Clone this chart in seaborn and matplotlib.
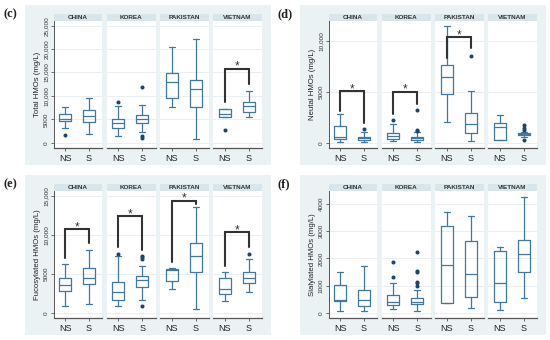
import matplotlib
matplotlib.use("Agg")
import matplotlib.pyplot as plt
import seaborn as sns
from matplotlib.patches import Rectangle

# ---------------- data ----------------
COUNTRIES = ["CHINA", "KOREA", "PAKISTAN", "VIETNAM"]
GROUPS = ["NS", "S"]
PANEL_LABELS = ["(c)", "(d)", "(e)", "(f)"]
Y_LABELS = ["Total HMOs (mg/L)", "Neutal HMOs (mg/L)",
            "Fucosylated HMOs (mg/L)", "Sialylated HMOs (mg/L)"]

# box order: China NS, China S, Korea NS, Korea S, Pakistan NS, Pakistan S, Vietnam NS, Vietnam S
total_whislo = [3200, 1780, 1350, 2210, 7620, 850, 5410, 5410]
total_q1 = [4630, 4490, 3060, 4200, 9620, 7620, 5410, 6480]
total_med = [5060, 5630, 4270, 5130, 12960, 11400, 6130, 7830]
total_q3 = [6125, 6980, 5130, 5840, 14960, 13460, 7260, 8760]
total_whishi = [7550, 9615, 7760, 8120, 20510, 22150, 7260, 11110]
total_fliers = [[1640], [], [8760], [11890, 1400, 900], [], [], [2710], []]

neutral_whislo = [160, 160, 230, 130, 2120, 200, 290, 600]
neutral_q1 = [390, 330, 420, 290, 4790, 1040, 290, 780]
neutral_med = [590, 490, 750, 490, 6510, 1890, 1600, 900]
neutral_q3 = [1730, 650, 980, 650, 7620, 2960, 2020, 1000]
neutral_whishi = [2870, 1140, 1890, 1100, 11470, 5150, 2740, 1150]
neutral_fliers = [[], [1400], [2310], [3220, 1270, 1200], [], [8530], [],
                  [1750, 1500, 1300, 280]]

fuco_whislo = [930, 1100, 930, 1690, 3010, 510, 1530, 2710]
fuco_q1 = [2840, 3770, 1610, 3390, 4150, 5210, 2460, 3900]
fuco_med = [3520, 4530, 2750, 4240, 5450, 7250, 3010, 4530]
fuco_q3 = [4450, 5720, 3940, 4750, 5600, 8900, 4530, 5300]
fuco_whishi = [6230, 8090, 7300, 5970, 5750, 13520, 5300, 6910]
fuco_fliers = [[], [], [7550], [7330, 7160, 6950, 890], [], [], [], [7540]]

sial_whislo = [70, 85, 145, 70, 350, 190, 120, 560]
sial_q1 = [440, 270, 300, 315, 350, 590, 400, 1500]
sial_med = [460, 480, 390, 410, 1770, 1440, 1100, 2150]
sial_q3 = [1010, 840, 650, 545, 3190, 2650, 2270, 2680]
sial_whishi = [1490, 1730, 1080, 850, 3680, 3550, 2400, 4250]
sial_fliers = [[], [], [1850, 1300], [2230, 1530, 1490, 1140, 1080, 970],
               [], [], [], []]

# significance brackets: facet index, bracket top, NS leg end, S leg end
total_sig_facet = [3]
total_sig_top = [15810]
total_sig_left = [8760]
total_sig_right = [12470]

neutral_sig_facet = [0, 1, 2]
neutral_sig_top = [5080, 5050, 10360]
neutral_sig_left = [3160, 2870, 8310]
neutral_sig_right = [1990, 3840, 9350]

fuco_sig_facet = [0, 1, 2, 3]
fuco_sig_top = [10760, 12370, 14360, 10340]
fuco_sig_left = [7030, 8390, 6480, 6060]
fuco_sig_right = [8940, 8000, 13940, 8390]

sial_sig_facet = []
sial_sig_top = []
sial_sig_left = []
sial_sig_right = []

total_ticks = [0, 5000, 10000, 15000, 20000, 25000]
total_ticklabels = ["0", "5000", "10,000", "15,000", "20,000", "25,000"]
neutral_ticks = [0, 5000, 10000]
neutral_ticklabels = ["0", "5000", "10,000"]
fuco_ticks = [0, 5000, 10000, 15000]
fuco_ticklabels = ["0", "5000", "10,000", "15,000"]
sial_ticks = [0, 1000, 2000, 3000, 4000]
sial_ticklabels = ["0", "1000", "2000", "3000", "4000"]

# ---------------- style ----------------
sns.set_theme(style="white")
plt.rcParams["font.family"] = ["Liberation Sans", "DejaVu Sans"]

BG = "#EAF2F3"
STRIP = "#D8E6EC"
BOXC = "#3F78A3"
DOTC = "#1A476F"
GRIDC = "#E6EDF1"
AXC = "#555555"

W, H = 550, 340
fig = plt.figure(figsize=(5.5, 3.4), dpi=100)
fig.patch.set_facecolor("white")


def rect(x0, y0, x1, y1):
    return [x0 / W, 1 - y1 / H, (x1 - x0) / W, (y1 - y0) / H]


panels = [
    dict(off=(0, 0), stats=(total_whislo, total_q1, total_med, total_q3, total_whishi, total_fliers),
         sig=(total_sig_facet, total_sig_top, total_sig_left, total_sig_right),
         ticks=total_ticks, ticklabels=total_ticklabels, ylim=(-1197, 26068)),
    dict(off=(275, 0), stats=(neutral_whislo, neutral_q1, neutral_med, neutral_q3, neutral_whishi, neutral_fliers),
         sig=(neutral_sig_facet, neutral_sig_top, neutral_sig_left, neutral_sig_right),
         ticks=neutral_ticks, ticklabels=neutral_ticklabels, ylim=(-489, 11984)),
    dict(off=(0, 170), stats=(fuco_whislo, fuco_q1, fuco_med, fuco_q3, fuco_whishi, fuco_fliers),
         sig=(fuco_sig_facet, fuco_sig_top, fuco_sig_left, fuco_sig_right),
         ticks=fuco_ticks, ticklabels=fuco_ticklabels, ylim=(-674, 15636)),
    dict(off=(275, 170), stats=(sial_whislo, sial_q1, sial_med, sial_q3, sial_whishi, sial_fliers),
         sig=(sial_sig_facet, sial_sig_top, sial_sig_left, sial_sig_right),
         ticks=sial_ticks, ticklabels=sial_ticklabels, ylim=(-193, 4473)),
]

FACET_X = [(53.5, 102.0), (106.5, 155.5), (160.0, 209.0), (213.0, 262.0)]
PLOT_Y = (20.7, 148.3)
STRIP_Y = (13.8, 20.7)

for p, pan in enumerate(panels):
    ox, oy = pan["off"]
    bgr = Rectangle(((ox + 25) / W, 1 - (oy + 165) / H), 246 / W, 160 / H,
                    transform=fig.transFigure, facecolor=BG, edgecolor="none", zorder=-10)
    fig.add_artist(bgr)
    fig.text((ox + 3) / W, 1 - (oy + 14) / H, PANEL_LABELS[p], ha="left", va="center",
             fontsize=9, fontweight="bold", family=["Liberation Serif", "DejaVu Serif"],
             color="#222222")
    wl, q1, md, q3, wh, fl = pan["stats"]
    sf, st, sl, sr = pan["sig"]
    for f in range(4):
        x0, x1 = FACET_X[f]
        ax = fig.add_axes(rect(ox + x0, oy + PLOT_Y[0], ox + x1, oy + PLOT_Y[1]))
        ax.set_facecolor("white")
        bstats = []
        for k in (2 * f, 2 * f + 1):
            bstats.append(dict(whislo=wl[k], q1=q1[k], med=md[k], q3=q3[k],
                               whishi=wh[k], fliers=fl[k]))
        ax.bxp(bstats, positions=[0, 1], widths=0.5, showfliers=True,
               boxprops=dict(color=BOXC, linewidth=0.9),
               whiskerprops=dict(color=BOXC, linewidth=0.9),
               capprops=dict(color=BOXC, linewidth=0.9),
               medianprops=dict(color=BOXC, linewidth=0.9),
               flierprops=dict(marker="o", markersize=1.9, markerfacecolor=DOTC,
                               markeredgecolor=DOTC, linestyle="none"))
        ax.set_xlim(-0.5, 1.55)
        ax.set_ylim(*pan["ylim"])
        ax.set_yticks(pan["ticks"])
        ax.yaxis.grid(True, color=GRIDC, linewidth=0.6)
        ax.xaxis.grid(False)
        ax.set_axisbelow(True)
        ax.set_xticks([0, 1])
        ax.set_xticklabels(GROUPS, fontsize=6.5, color="#222222")
        ax.tick_params(axis="x", length=2, width=0.6, color=AXC, pad=2, bottom=True)
        for s in ("top", "right"):
            ax.spines[s].set_visible(False)
        ax.spines["bottom"].set_color(AXC)
        ax.spines["bottom"].set_linewidth(0.9)
        if f == 0:
            ax.spines["left"].set_color(AXC)
            ax.spines["left"].set_linewidth(0.7)
            ax.set_yticklabels(pan["ticklabels"], fontsize=4.6, color="#333333",
                               rotation=90, va="center")
            ax.tick_params(axis="y", length=2, width=0.6, color=AXC, pad=1.5, left=True)
            ax.set_ylabel(Y_LABELS[p], fontsize=5.6, color="#222222", labelpad=2)
        else:
            ax.spines["left"].set_visible(False)
            ax.tick_params(axis="y", left=False, labelleft=False)
        # significance brackets
        for j in range(len(sf)):
            if sf[j] == f:
                ax.plot([0, 0, 1, 1], [sl[j], st[j], st[j], sr[j]],
                        color="#333333", linewidth=1.5, solid_joinstyle="miter",
                        zorder=5)
                ax.annotate("*", xy=(0.5, st[j]), xytext=(0, -0.8),
                            textcoords="offset points", ha="center", va="baseline",
                            fontsize=8.5, color="#333333")
        # strip
        sax = fig.add_axes(rect(ox + x0, oy + STRIP_Y[0], ox + x1, oy + STRIP_Y[1]))
        sax.set_facecolor(STRIP)
        sax.set_xticks([])
        sax.set_yticks([])
        for s in sax.spines.values():
            s.set_visible(False)
        sax.text(0.5, 0.45, COUNTRIES[f], ha="center", va="center", fontsize=4.6,
                 color="#333333", fontweight="bold", transform=sax.transAxes)

fig.savefig("out.png", dpi=100, facecolor="white")
